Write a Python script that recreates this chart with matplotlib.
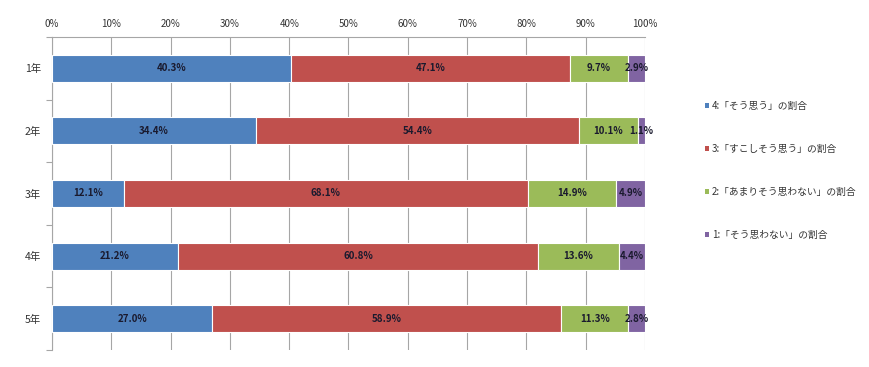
import matplotlib
matplotlib.use("Agg")
import matplotlib.pyplot as plt
from matplotlib.patches import Patch
from matplotlib.ticker import FixedLocator
import numpy as np

plt.rcParams['font.family'] = ['Noto Sans CJK JP', 'DejaVu Sans']

categories = ["1年", "2年", "3年", "4年", "5年"]
series_names = ["4:「そう思う」の割合", "3:「すこしそう思う」の割合",
                "2:「あまりそう思わない」の割合", "1:「そう思わない」の割合"]
s4 = [40.3, 34.4, 12.1, 21.2, 27.0]
s3 = [47.1, 54.4, 68.1, 60.8, 58.9]
s2 = [9.7, 10.1, 14.9, 13.6, 11.3]
s1 = [2.9, 1.1, 4.9, 4.4, 2.8]
xticks = [0, 10, 20, 30, 40, 50, 60, 70, 80, 90, 100]
colors = ["#4F81BD", "#C0504D", "#9BBB59", "#8064A2"]

fig = plt.figure(figsize=(8.7, 3.67), dpi=100)
ax = fig.add_axes([52/870, 1-350/367, (645-52)/870, (350-37)/367])

y = np.arange(len(categories))
left = np.zeros(len(categories))
for vals, c in zip([s4, s3, s2, s1], colors):
    vals = np.array(vals)
    ax.barh(y, vals, left=left, height=0.43, color=c, edgecolor="white",
            linewidth=0.8, zorder=3)
    for yi, l, v in zip(y, left, vals):
        ax.text(l + v/2, yi, f"{v:.1f}%", ha="center", va="center",
                fontsize=7, fontweight="bold", color="#1a1a2e", zorder=4)
    left = left + vals

ax.set_xlim(0, 100)
ax.set_ylim(len(categories)-0.5, -0.5)
ax.xaxis.set_major_locator(FixedLocator(xticks))
ax.set_xticklabels([f"{t}%" for t in xticks])
ax.xaxis.tick_top()
ax.tick_params(axis="x", length=0, labelsize=7, pad=6, colors="#333333")
ax.grid(axis="x", color="#a6a6a6", linewidth=0.8, zorder=0)

ax.set_yticks(y)
ax.set_yticklabels(categories)
ax.yaxis.set_minor_locator(FixedLocator(np.arange(-0.5, len(categories), 1.0)))
ax.tick_params(axis="y", which="major", length=0, labelsize=7.5, pad=8, colors="#333333")
ax.tick_params(axis="y", which="minor", length=4, width=0.8, color="#a6a6a6", direction="out")

for s in ["right", "bottom"]:
    ax.spines[s].set_visible(False)
ax.spines["left"].set_color("#a6a6a6")
ax.spines["top"].set_color("#a6a6a6")
ax.spines["left"].set_linewidth(0.8)
ax.spines["top"].set_linewidth(0.8)

handles = [Patch(facecolor=c, edgecolor="none") for c in colors]
fig.legend(handles, series_names, loc="upper left",
           bbox_to_anchor=(696/870, 1-92/367), frameon=False,
           fontsize=7, handlelength=0.45, handleheight=0.45,
           handletextpad=0.3, labelspacing=3.4, labelcolor="#333333")

fig.savefig("out.png", dpi=100)
